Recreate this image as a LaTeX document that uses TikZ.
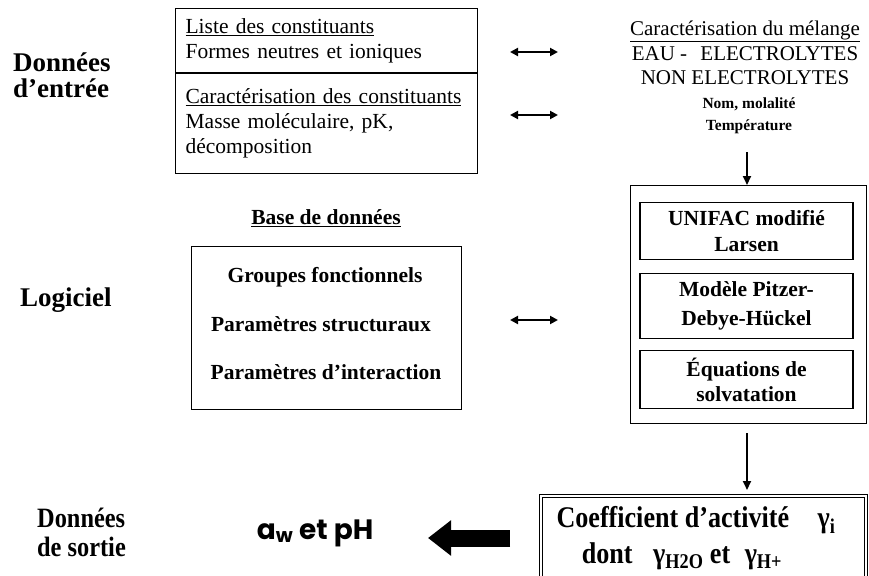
\documentclass[tikz,border=0pt]{standalone}
\usepackage{fontspec}
\setmainfont{Liberation Serif}
\newfontfamily\etroite[FakeStretch=0.87]{Liberation Serif}
\newfontfamily\ronde{Poppins}
\usetikzlibrary{arrows.meta,positioning}

\begin{document}
\begin{tikzpicture}[x=1pt,y=-1pt,
  every node/.style={inner sep=0pt},
  cadre/.style={draw,line width=1.2pt},
  titre/.style={font=\fontsize{27}{26}\selectfont\bfseries,align=left},
  texte/.style={font=\fontsize{21.5}{25}\selectfont},
  gras/.style={font=\fontsize{21.5}{26}\selectfont\bfseries,align=center},
  fleche/.style={line width=2.2pt,{Triangle[length=8pt,width=8pt]}-{Triangle[length=8pt,width=8pt]}},
  descente/.style={line width=1.8pt,-{Triangle[length=9pt,width=8pt]}},
  grosse/.style={line width=17pt,-{Triangle[length=23pt,width=34pt]}}]
\useasboundingbox (0,0) rectangle (869,575);
\clip (0,0) rectangle (869,575);

% donnees d'entree
\node[titre,anchor=west] (entree) at (13,75) {Données\\d’entrée};
\node[cadre,texte,anchor=north west,text width=282pt,inner xsep=10pt,minimum height=64pt,align=left] (liste) at (175,8)
  {\underline{Liste des constituants}\\Formes neutres et ioniques};
\node[cadre,texte,anchor=north west,text width=282pt,inner xsep=10pt,minimum height=100pt,align=left] (carac) at (liste.south west)
  {\underline{Caractérisation des constituants}\\Masse moléculaire, pK,\\décomposition};
\node[font=\fontsize{21}{24}\selectfont,align=center] (melange) at (745,53)
  {\underline{Caractérisation du mélange}\\[1pt]EAU -\hspace{8pt} ELECTROLYTES\\NON ELECTROLYTES};
\node[font=\fontsize{15.5}{22}\selectfont\bfseries,align=center] (temp) at (749,116) {Nom, molalité\\Température};

\coordinate (g1) at (510,52);
\coordinate (d1) at (558,52);
\coordinate (g2) at (510,115);
\coordinate (d2) at (558,115);
\draw[fleche] (g1) -- (d1);
\draw[fleche] (g2) -- (d2);

% logiciel
\node[titre,anchor=west] (logiciel) at (20,300) {Logiciel};
\node[gras] (base) at (326,218) {\underline{Base de données}};
\node[cadre,anchor=north west,minimum width=270pt,minimum height=163pt] (bdd) at (191,246) {};
\node[gras] (groupes) at (325,277) {Groupes fonctionnels};
\node[gras] (struct) at (321,324) {Paramètres structuraux};
\node[gras] (inter) at (326,372) {Paramètres d’interaction};

\coordinate (g3) at (510,320);
\coordinate (d3) at (558,320);
\draw[fleche] (g3) -- (d3);

\node[cadre,anchor=north west,minimum width=236pt,minimum height=238pt] (modele) at (630,185) {};
\node[cadre,gras,anchor=north,minimum width=213pt,minimum height=57pt] (unifac) at (746.5,202) {UNIFAC modifié\\Larsen};
\node[cadre,gras,anchor=north,minimum width=213pt,minimum height=65pt,font=\fontsize{21.5}{29}\selectfont\bfseries] (pitzer) at (746.5,273) {Modèle Pitzer-\\Debye-Hückel};
\node[cadre,gras,anchor=north,minimum width=213pt,minimum height=58pt,font=\fontsize{21.5}{25}\selectfont\bfseries] (solv) at (746.5,350) {Équations de\\solvatation};

\coordinate (h1) at (747,152);
\draw[descente] (h1) -- (h1 |- modele.north);

% donnees de sortie
\node[font=\etroite\fontsize{28}{29}\selectfont\bfseries,align=left,anchor=west] (sortie) at (37,532) {Données\\de sortie};
\node[font=\ronde\fontsize{28}{28}\selectfont\bfseries] (aw) at (315,533) {a\textsubscript{w} et pH};
\node[cadre,double,line width=1pt,double distance=2pt,anchor=north west,minimum width=325pt,minimum height=100pt] (coef) at (540,495) {};
\node[font=\etroite\fontsize{30}{36}\selectfont\bfseries] (coef1) at (696,520) {Coefficient d’activité\hspace{22pt} γ\textsubscript{i}};
\node[font=\etroite\fontsize{30}{36}\selectfont\bfseries] (coef2) at (682,556) {dont\hspace{14pt} γ\textsubscript{H2O} et\hspace{8pt} γ\textsubscript{H+}};

\coordinate (h2) at (747,433);
\draw[descente,shorten >=5pt] (h2) -- (h2 |- coef.north);

\coordinate (fq) at (510,538);
\coordinate (ft) at (428,538);
\draw[grosse] (fq) -- (ft);
\end{tikzpicture}
\end{document}
